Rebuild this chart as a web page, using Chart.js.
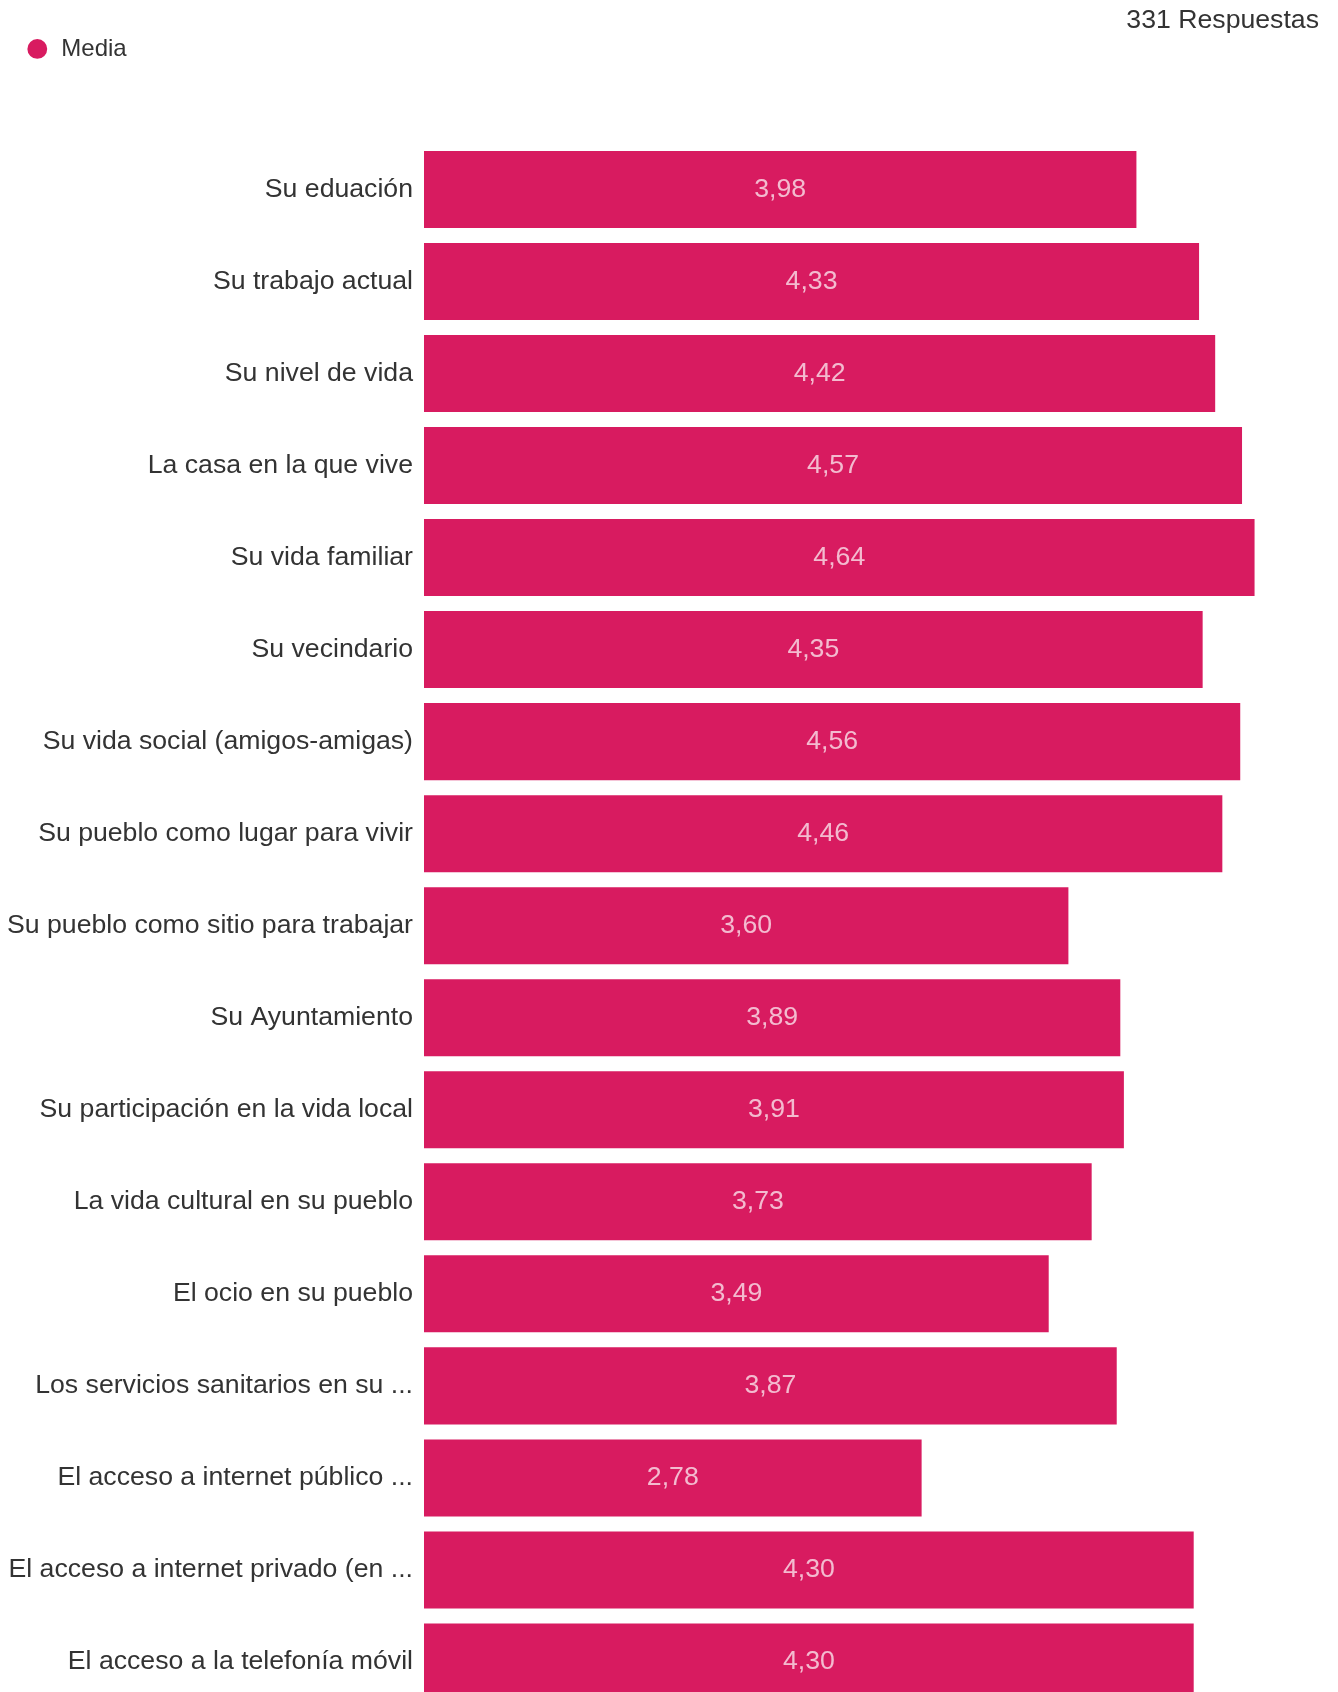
<!DOCTYPE html>
<html lang="es">
<head>
  <meta charset="UTF-8">
  <title>Media</title>
  <script src="https://cdn.jsdelivr.net/npm/chart.js"></script>
  <style>
    html, body {
      margin: 0;
      padding: 0;
      overflow: hidden;
      background: #fff;
    }
    #wrap {
      width: 1338px;
      height: 1735px;
      position: relative;
    }
  </style>
</head>
<body>

<div id="wrap">
  <canvas id="barChart"></canvas>
</div>

<script>
  const categories = [
    "Su eduación",
    "Su trabajo actual",
    "Su nivel de vida",
    "La casa en la que vive",
    "Su vida familiar",
    "Su vecindario",
    "Su vida social (amigos-amigas)",
    "Su pueblo como lugar para vivir",
    "Su pueblo como sitio para trabajar",
    "Su Ayuntamiento",
    "Su participación en la vida local",
    "La vida cultural en su pueblo",
    "El ocio en su pueblo",
    "Los servicios sanitarios en su ...",
    "El acceso a internet público ...",
    "El acceso a internet privado (en ...",
    "El acceso a la telefonía móvil"
  ];
  const mediaValues = [3.98, 4.33, 4.42, 4.57, 4.64, 4.35, 4.56, 4.46, 3.60, 3.89, 3.91, 3.73, 3.49, 3.87, 2.78, 4.30, 4.30];
  const seriesName = "Media";
  const responsesText = "331 Respuestas";

  const pink = "#d81b60";
  const textColor = "#333333";
  const fontFamily = "'Liberation Sans', Arial, sans-serif";
  const fontSize = 26.67;
  const legendFontSize = 24;

  // valor dentro de cada barra, con coma decimal
  const valueLabels = {
    id: 'valueLabels',
    afterDatasetsDraw(chart) {
      const ctx = chart.ctx;
      const meta = chart.getDatasetMeta(0);
      ctx.save();
      ctx.font = fontSize + "px " + fontFamily;
      ctx.fillStyle = "rgba(255, 255, 255, 0.7)";
      ctx.textAlign = "center";
      ctx.textBaseline = "middle";
      meta.data.forEach((bar, i) => {
        const txt = mediaValues[i].toFixed(2).replace(".", ",");
        ctx.fillText(txt, (bar.x + bar.base) / 2, bar.y);
      });
      ctx.restore();
    }
  };

  // espacio extra debajo de la leyenda
  const legendMargin = {
    id: 'legendMargin',
    beforeInit(chart) {
      const fitValue = chart.legend.fit;
      chart.legend.fit = function fit() {
        fitValue.bind(chart.legend)();
        this.height += 72.5;
      };
    }
  };

  const ctx = document.getElementById('barChart').getContext('2d');
  const chart = new Chart(ctx, {
    type: 'bar',
    data: {
      labels: categories,
      datasets: [{
        label: seriesName,
        data: mediaValues,
        backgroundColor: pink,
        borderWidth: 0,
        categoryPercentage: 1,
        barPercentage: 0.837
      }]
    },
    options: {
      indexAxis: 'y',
      responsive: true,
      maintainAspectRatio: false,
      animation: false,
      layout: {
        padding: { left: 8, right: 19, top: 0, bottom: 0 }
      },
      scales: {
        x: {
          display: false,
          min: 0,
          max: 5
        },
        y: {
          grid: { display: false, drawTicks: false },
          border: { display: false },
          afterFit(scale) {
            scale.width -= 12;
          },
          ticks: {
            padding: 11,
            color: textColor,
            font: { family: fontFamily, size: fontSize }
          }
        }
      },
      plugins: {
        title: {
          display: true,
          text: responsesText,
          align: 'end',
          color: textColor,
          font: { family: fontFamily, size: fontSize, weight: 'normal' },
          padding: { top: 5, bottom: -17.4 }
        },
        legend: {
          position: 'top',
          align: 'start',
          labels: {
            usePointStyle: true,
            pointStyle: 'circle',
            boxWidth: legendFontSize,
            boxHeight: 14,
            padding: 17.3,
            color: textColor,
            font: { family: fontFamily, size: legendFontSize }
          }
        },
        tooltip: { enabled: false }
      }
    },
    plugins: [valueLabels, legendMargin]
  });
</script>

</body>
</html>
